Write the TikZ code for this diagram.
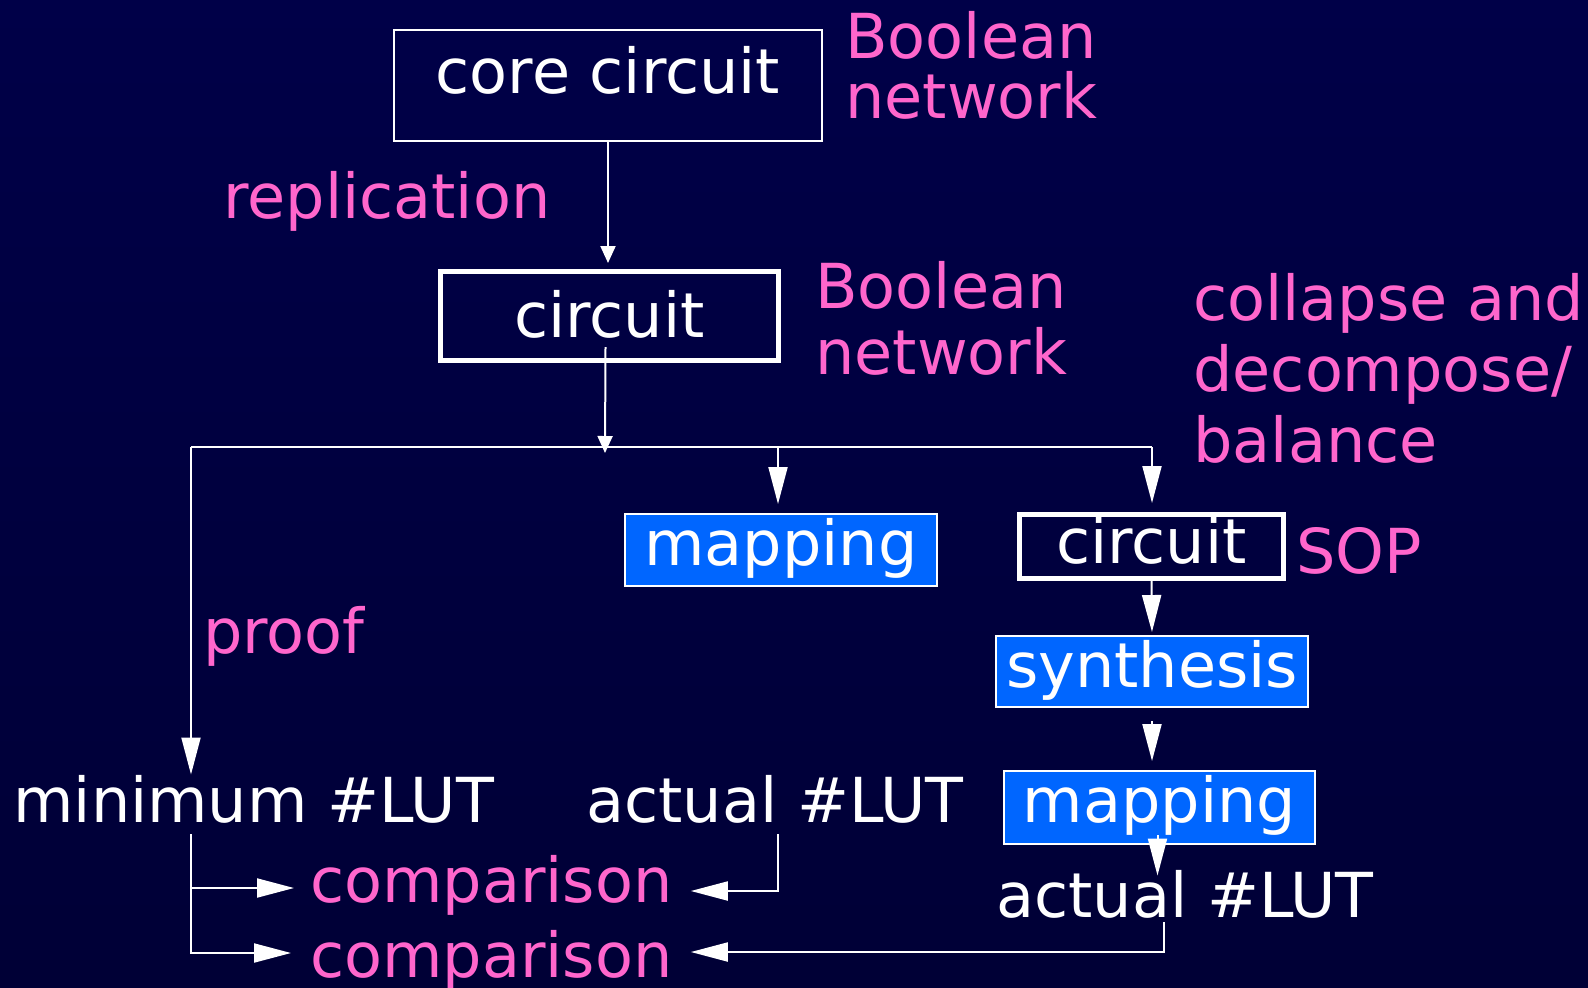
\documentclass[tikz,border=0pt]{standalone}
\usepackage{fontspec}
\setmainfont{DejaVu Sans}
\usetikzlibrary{arrows.meta,calc}
\definecolor{bgtop}{RGB}{0,0,72}
\definecolor{bgmid}{RGB}{0,0,98}
\definecolor{bgbot}{RGB}{0,0,54}
\definecolor{notepink}{RGB}{255,102,204}
\definecolor{stepblue}{RGB}{0,102,255}
\tikzset{
	box/.style={draw=white, inner sep=0pt, text=white, anchor=base, line width=0.04cm},
	thickbox/.style={box, line width=0.1cm},
	bluebox/.style={box, fill=stepblue},
	word/.style={text=white, inner sep=0pt, anchor=base west},
	note/.style={text=notepink, inner sep=0pt, anchor=base west, align=left},
	wire/.style={draw=white, line width=0.04cm},
	small/.style={wire, -{Triangle[length=0.34cm,width=0.3cm]}},
	big/.style={wire, -{Triangle[length=0.74cm,width=0.38cm]}}
}

\begin{document}
\begin{tikzpicture}[x=0.02cm, y=-0.02cm, font=\fontsize{35.3}{40}\selectfont]
	\shade[top color=bgtop, middle color=bgmid, bottom color=bgbot] (0,0) rectangle (1588,987);
	\useasboundingbox (0,0) rectangle (1588,987);

	\node[box, minimum width=8.56cm, text height=1.26cm, text depth=0.96cm] (core) at (608,93) {core circuit};
	\node[thickbox, minimum width=6.76cm, text height=1.31cm, text depth=0.47cm] (circ) at (609.5,337) {circuit};
	\node[bluebox, minimum width=6.24cm, text height=1.02cm, text depth=0.42cm] (mapa) at (781,565) {mapping};
	\node[thickbox, minimum width=5.28cm, text height=0.97cm, text depth=0.31cm] (sop) at (1151.5,563) {circuit};
	\node[bluebox, minimum width=6.24cm, text height=1.02cm, text depth=0.40cm] (synth) at (1152,687) {synthesis};
	\node[bluebox, minimum width=6.22cm, text height=1.02cm, text depth=0.44cm] (mapb) at (1159.5,822) {mapping};

	\node[word] (minlut) at (13,822) {minimum \#LUT};
	\node[word] (actlut) at (586,822) {actual \#LUT};
	\node[word] (actlutb) at (996,917) {actual \#LUT};
	\node[note] (cmpa) at (310,902) {comparison};
	\node[note] (cmpb) at (310,977) {comparison};

	\node[note] (repl) at (223,218) {replication};
	\node[note, font=\fontsize{35.3}{34.1}\selectfont] (boola) at (845,118) {Boolean\\network};
	\node[note, font=\fontsize{35.3}{37.5}\selectfont] (boolb) at (815,374) {Boolean\\network};
	\node[note, font=\fontsize{35.3}{40.4}\selectfont] (coll) at (1193,462) {collapse and\\decompose/\\balance};
	\node[note] (proof) at (203,653) {proof};
	\node[note] (soplbl) at (1296,573) {SOP};

	\coordinate (split) at (605,453);
	\coordinate (busl) at (191,447);
	\coordinate (busm) at (778,447);
	\coordinate (busr) at (1152,447);
	\coordinate (mapbout) at ($(mapb.south)+(-2,-10)$);
	\coordinate (actout) at ($(actlutb.base west)+(168,5)$);
	\coordinate (ina) at ($(cmpa.base west)+(-16,-14)$);
	\coordinate (inb) at ($(cmpb.base west)+(-19,-24)$);
	\coordinate (ra) at ($(cmpa.base east)+(18,-11)$);
	\coordinate (rb) at ($(cmpb.base east)+(18,-25)$);

	\draw[small, shorten >=0.12cm] (core.south) -- (core.south |- circ.north);
	\draw[small] ($(circ.base)+(-4,10)$) -- (split);
	\draw[wire] (busl) -- (busr);
	\draw[big] (busl) -- (busl |- minlut.north);
	\draw[big, shorten >=0.18cm] (busm) -- (busm |- mapa.north);
	\draw[big, shorten >=0.18cm] (busr) -- (busr |- sop.north);
	\draw[big, shorten >=0.06cm] (sop.south) -- (synth.north);
	\draw[big, shorten <=0.26cm, shorten >=0.18cm] (synth.south) -- (synth.south |- mapb.north);
	\draw[big, shorten >=-0.12cm] (mapbout) -- (mapbout |- actlutb.north);

	\draw[big, shorten <=0.22cm] (busl |- minlut.south) |- (inb);
	\draw[big] (busl |- ina) -- (ina);
	\draw[big, shorten <=0.22cm] (busm |- actlut.south) |- (ra);
	\draw[big] (actout) |- (rb);
\end{tikzpicture}
\end{document}
